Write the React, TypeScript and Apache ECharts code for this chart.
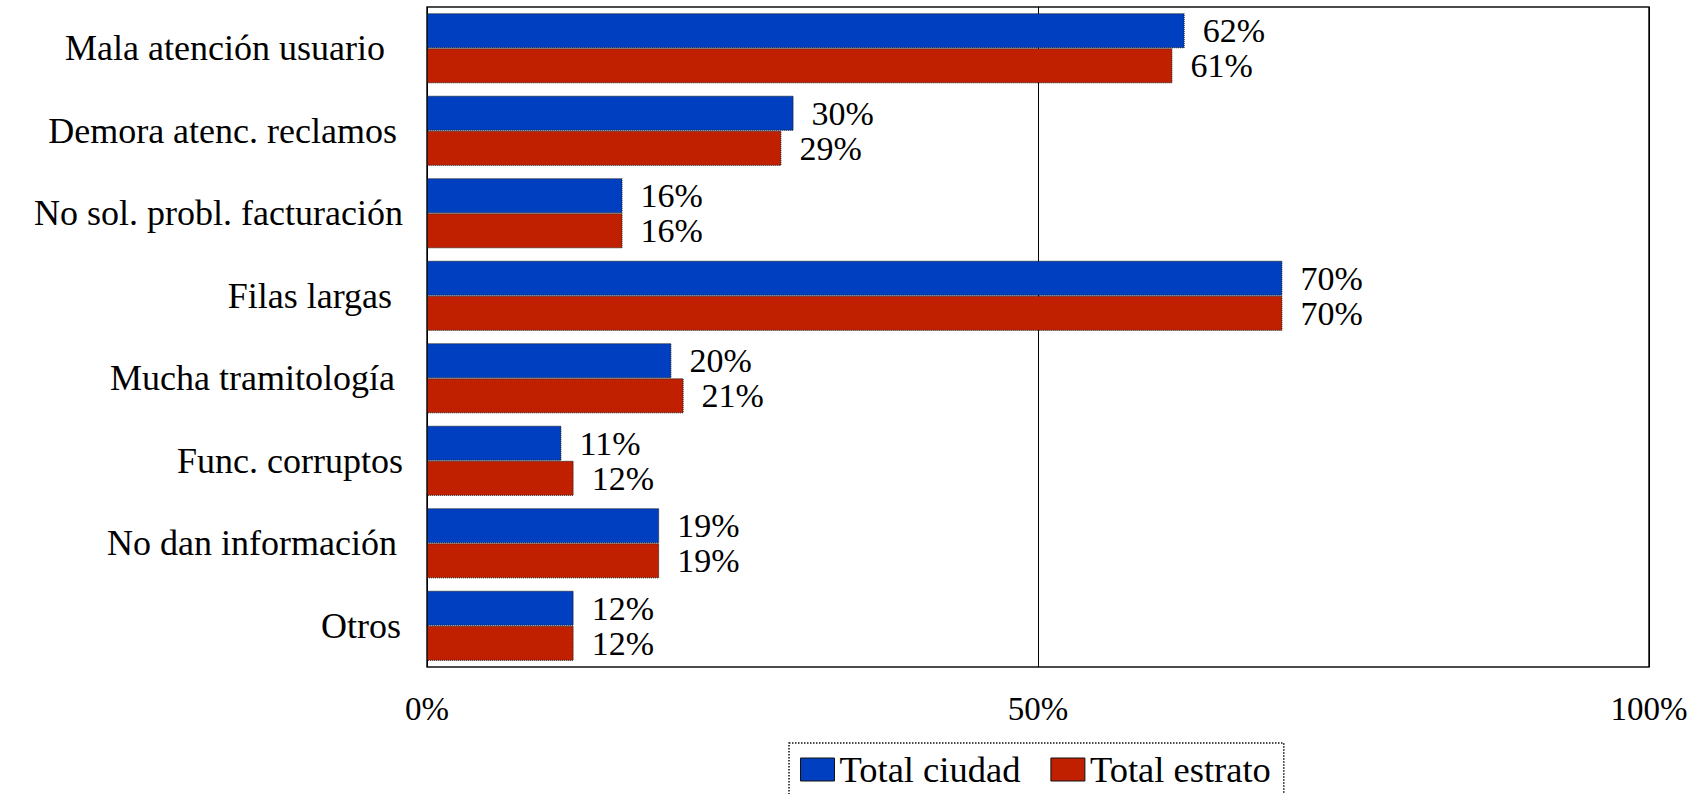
import React, { useEffect, useRef } from "react";
import * as echarts from "echarts";

const categories = [
  "Mala atención usuario",
  "Demora atenc. reclamos",
  "No sol. probl. facturación",
  "Filas largas",
  "Mucha tramitología",
  "Func. corruptos",
  "No dan información",
  "Otros",
];
const totalCiudad = [62, 30, 16, 70, 20, 11, 19, 12];
const totalEstrato = [61, 29, 16, 70, 21, 12, 19, 12];
const xTicks = [0, 50, 100];
const labelRightPad = [18, 6, 0, 11, 8, 0, 6, 2];

const FONT = "Liberation Serif";
const BLUE = "#0040c0";
const RED = "#c02000";

export default function App() {
  const ref = useRef<HTMLDivElement>(null);
  useEffect(() => {
    if (!ref.current) return;
    const chart = echarts.init(ref.current, null, { renderer: "svg" });
    const rich: Record<string, any> = {};
    labelRightPad.forEach((p, i) => {
      rich["p" + i] = {
        fontFamily: FONT,
        fontSize: 36,
        color: "#000",
        padding: [0, p, 0, 0],
      };
    });
    const barCommon = {
      type: "bar" as const,
      barGap: "0%",
      barCategoryGap: "15%",
      label: {
        show: true,
        position: "right" as const,
        distance: 18,
        formatter: "{c}%",
        fontFamily: FONT,
        fontSize: 34,
        lineHeight: 32,
        color: "#000",
      },
    };
    chart.setOption({
      animation: false,
      backgroundColor: "#fff",
      textStyle: { fontFamily: FONT },
      grid: {
        left: 427,
        right: 58,
        top: 7,
        bottom: 127,
        show: true,
        borderColor: "#111",
        borderWidth: 1.5,
        backgroundColor: "transparent",
      },
      legend: {
        left: 789,
        top: 743,
        orient: "horizontal",
        itemWidth: 34,
        itemHeight: 23,
        itemGap: 30,
        padding: [8, 13, 8, 11],
        borderColor: "#111",
        borderWidth: 1.5,
        borderType: "dotted",
        textStyle: { fontFamily: FONT, fontSize: 36.5, color: "#000" },
        data: [
          { name: "Total ciudad", icon: "rect" },
          { name: "Total estrato", icon: "rect" },
        ],
        itemStyle: { borderColor: "#111", borderWidth: 1 },
      },
      xAxis: {
        type: "value",
        min: xTicks[0],
        max: xTicks[xTicks.length - 1],
        interval: xTicks[1] - xTicks[0],
        axisLine: { show: false },
        axisTick: { show: false },
        axisLabel: {
          formatter: "{value}%",
          fontFamily: FONT,
          fontSize: 33,
          color: "#000",
          margin: 25,
        },
        splitLine: { show: true, lineStyle: { color: "#000", width: 1 } },
      },
      yAxis: {
        type: "category",
        inverse: true,
        data: categories,
        axisLine: { show: false },
        axisTick: { show: false },
        axisLabel: {
          margin: 24,
          fontFamily: FONT,
          fontSize: 36,
          color: "#000",
          formatter: (v: string, i: number) => `{p${i}|${v}}`,
          rich,
        },
      },
      series: [
        {
          ...barCommon,
          name: "Total ciudad",
          data: totalCiudad,
          itemStyle: { color: BLUE, borderColor: "#111", borderWidth: 1, borderType: "dotted" },
        },
        {
          ...barCommon,
          name: "Total estrato",
          data: totalEstrato,
          itemStyle: { color: RED, borderColor: "#111", borderWidth: 1, borderType: "dotted" },
        },
      ],
    });
    return () => chart.dispose();
  }, []);
  return (
    <div
      ref={ref}
      style={{ position: "fixed", left: 0, top: 0, width: 1707, height: 794 }}
    />
  );
}
